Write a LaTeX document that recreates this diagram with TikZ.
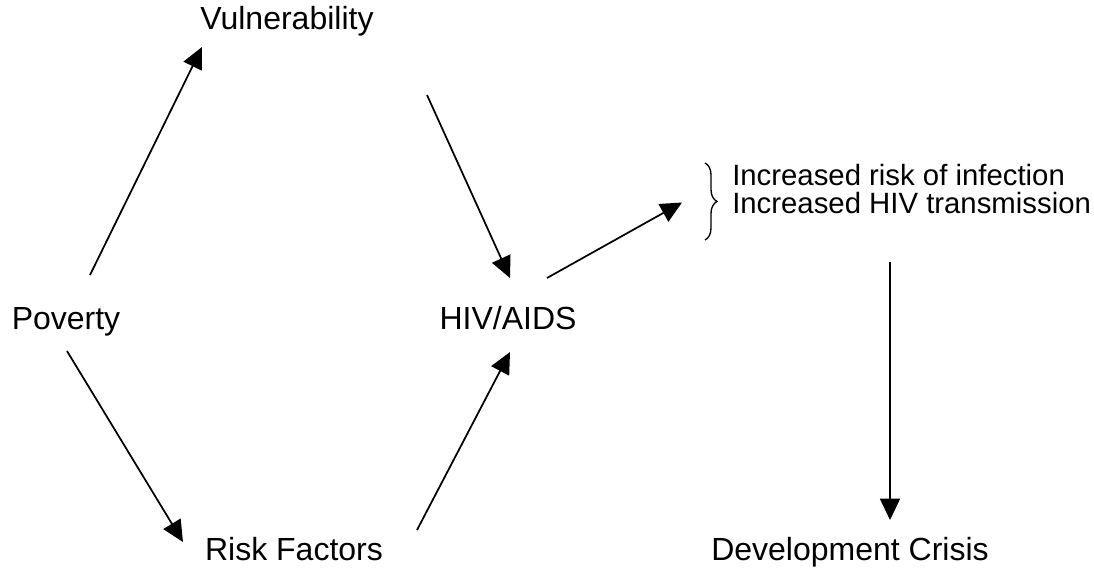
\documentclass[tikz,border=0pt]{standalone}
\usepackage{fontspec}
\setmainfont{Liberation Sans}
\usetikzlibrary{arrows.meta,decorations.pathreplacing,calc}
\begin{document}
\begin{tikzpicture}[x=0.75pt, y=-0.75pt,
  main/.style = {inner sep=0pt, anchor=base, font=\fontsize{24pt}{28pt}\selectfont},
  note/.style = {inner sep=0pt, anchor=base west, font=\fontsize{22pt}{26pt}\selectfont},
  link/.style = {->, >={Triangle[length=16pt, width=15pt]}, line width=1.3pt}]
\useasboundingbox (0,0) rectangle (1094,567);

\node[main] (vul)  at (287,30)  {Vulnerability};
\node[main] (pov)  at (66,329)  {Poverty};
\node[main] (hiv)  at (508,329) {HIV/AIDS};
\node[main] (risk) at (294,560) {Risk Factors};
\node[main] (dev)  at (850,560) {Development Crisis};
\node[note] (inc1) at (732,185) {Increased risk of infection};
\node[note] (inc2) at (732,213) {Increased HIV transmission};

% brace in front of the two notes
\coordinate (btop) at ([shift={(-27,-22)}]inc1.base west);
\coordinate (bbot) at ([shift={(-27,27)}]inc2.base west);
\coordinate (bmid) at ($(btop)!0.5!(bbot)$);
\draw[line width=1pt, decorate, decoration={brace, amplitude=9pt}] (btop) -- (bbot);

\draw[link] ([shift={(24,-54)}]pov.base) -- ([shift={(-85,17)}]vul.base);
\draw[link] ([shift={(140,65)}]vul.base) -- ([shift={(2,-51)}]hiv.base);
\draw[link] ([shift={(1,22)}]pov.base) -- ([shift={(-111,-18)}]risk.base);
\draw[link] ([shift={(123,-30)}]risk.base) -- ([shift={(2,23)}]hiv.base);
\draw[link] ([shift={(39,-51)}]hiv.base) -- ([shift={(-23,1)}]bmid);
\draw[link] ([shift={(158,49)}]inc2.base west) -- ([shift={(40,-40)}]dev.base);

\end{tikzpicture}
\end{document}
